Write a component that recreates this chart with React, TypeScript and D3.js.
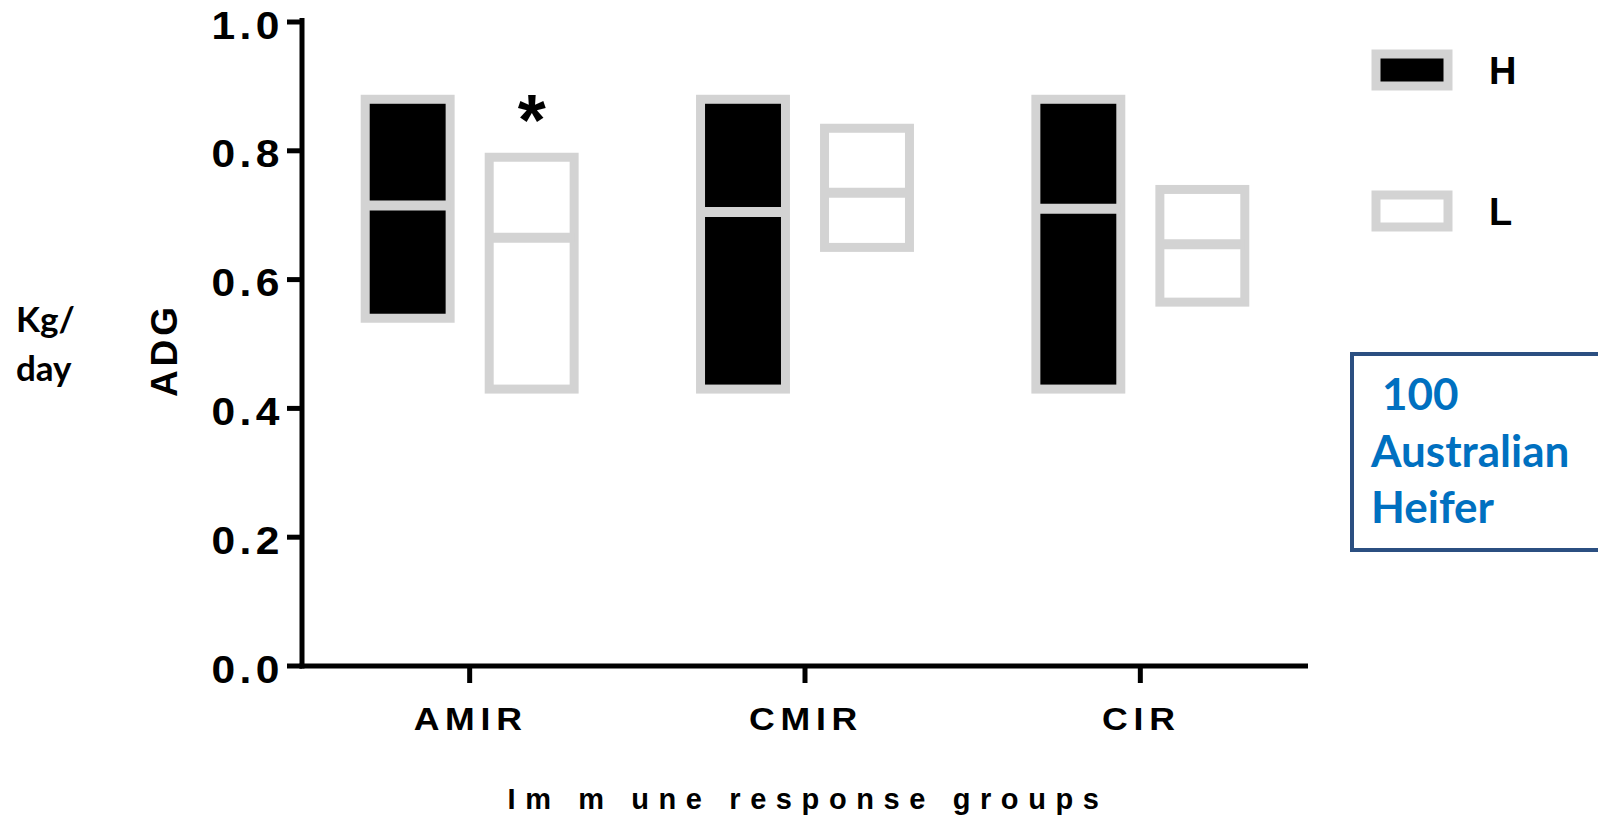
import React, { useEffect, useRef } from 'react';
import * as d3 from 'd3';

const groups = ['AMIR', 'CMIR', 'CIR'];
const series = ['H', 'L'];
// floating bars: min..max with a line at the mean
const hTop = [0.88, 0.88, 0.88];
const hBottom = [0.54, 0.43, 0.43];
const hMean = [0.715, 0.705, 0.71];
const lTop = [0.79, 0.835, 0.74];
const lBottom = [0.43, 0.65, 0.565];
const lMean = [0.665, 0.735, 0.655];
const yTicks = [0, 0.2, 0.4, 0.6, 0.8, 1.0];
const starred = [{ group: 'AMIR', series: 'L', label: '*' }];
const noteLines = ['100', 'Australian', 'Heifer'];

const W = 1598, H = 818;
const GREY = '#d3d3d3';
const ARIAL = '"Liberation Sans", Arial, sans-serif';
const CALIBRI = 'Lato, "Open Sans", sans-serif';

const App = () => {
  const ref = useRef<SVGSVGElement>(null);

  useEffect(() => {
    const svg = d3.select(ref.current);
    svg.selectAll('*').remove();

    const y = d3.scaleLinear().domain([0, 1]).range([666, 22]);
    const x = d3.scaleBand().domain(groups).range([302, 1308]);
    const sub = d3.scaleBand().domain(series).range([-124, 124]).paddingInner(0.315).paddingOuter(0.1575);

    const rows = groups.flatMap((g, i) => [
      { group: g, series: 'H', top: hTop[i], bottom: hBottom[i], mean: hMean[i] },
      { group: g, series: 'L', top: lTop[i], bottom: lBottom[i], mean: lMean[i] },
    ]);
    const bx = (d) => x(d.group)! + x.bandwidth() / 2 + sub(d.series)!;

    // bars
    const bar = svg.append('g').selectAll('g').data(rows).join('g');
    bar.append('rect')
      .attr('x', d => bx(d))
      .attr('y', d => y(d.top))
      .attr('width', sub.bandwidth())
      .attr('height', d => y(d.bottom) - y(d.top))
      .attr('fill', d => d.series === 'H' ? '#000' : '#fff')
      .attr('stroke', GREY)
      .attr('stroke-width', 9);
    bar.append('line')
      .attr('x1', d => bx(d))
      .attr('x2', d => bx(d) + sub.bandwidth())
      .attr('y1', d => y(d.mean))
      .attr('y2', d => y(d.mean))
      .attr('stroke', GREY)
      .attr('stroke-width', 10);

    // significance mark
    svg.append('g').selectAll('text').data(starred).join('text')
      .attr('x', d => x(d.group)! + x.bandwidth() / 2 + sub(d.series)! + sub.bandwidth() / 2)
      .attr('y', d => y(rows.find(r => r.group === d.group && r.series === d.series)!.top) - 12)
      .attr('text-anchor', 'middle')
      .attr('font-family', ARIAL)
      .attr('font-weight', 'bold')
      .attr('font-size', 72)
      .text(d => d.label);

    // y axis
    const yAxis = svg.append('g');
    yAxis.append('line')
      .attr('x1', x.range()[0]).attr('x2', x.range()[0])
      .attr('y1', y(1) - 4).attr('y2', y(0) + 2.5)
      .attr('stroke', '#000').attr('stroke-width', 5);
    yAxis.selectAll('line.tick').data(yTicks).join('line')
      .attr('class', 'tick')
      .attr('x1', x.range()[0] - 15).attr('x2', x.range()[0])
      .attr('y1', d => y(d)).attr('y2', d => y(d))
      .attr('stroke', '#000').attr('stroke-width', 5);
    yAxis.selectAll('text').data(yTicks).join('text')
      .attr('transform', d => `translate(284,${y(d) + 3}) scale(1.12,1)`)
      .attr('dy', '0.36em')
      .attr('text-anchor', 'end')
      .attr('font-family', ARIAL)
      .attr('font-weight', 'bold')
      .attr('font-size', 38)
      .attr('letter-spacing', 4)
      .text(d => d3.format('.1f')(d));

    // x axis
    const xAxis = svg.append('g');
    xAxis.append('line')
      .attr('x1', x.range()[0] - 2.5).attr('x2', x.range()[1])
      .attr('y1', y(0)).attr('y2', y(0))
      .attr('stroke', '#000').attr('stroke-width', 5);
    xAxis.selectAll('line.tick').data(groups).join('line')
      .attr('class', 'tick')
      .attr('x1', d => x(d)! + x.bandwidth() / 2).attr('x2', d => x(d)! + x.bandwidth() / 2)
      .attr('y1', y(0)).attr('y2', y(0) + 17)
      .attr('stroke', '#000').attr('stroke-width', 5);
    xAxis.selectAll('text').data(groups).join('text')
      .attr('transform', d => `translate(${x(d)! + x.bandwidth() / 2 + 1},730) scale(1.15,1)`)
      .attr('text-anchor', 'middle')
      .attr('font-family', ARIAL)
      .attr('font-weight', 'bold')
      .attr('font-size', 31)
      .attr('letter-spacing', 5)
      .text(d => d);

    // axis titles
    svg.append('text')
      .attr('x', 808).attr('y', 809)
      .attr('text-anchor', 'middle')
      .attr('font-family', ARIAL).attr('font-weight', 'bold')
      .attr('font-size', 29).attr('letter-spacing', 9.6)
      .text('Im m une response groups');
    svg.append('text')
      .attr('transform', 'translate(177,350) rotate(-90)')
      .attr('text-anchor', 'middle')
      .attr('font-family', ARIAL).attr('font-weight', 'bold')
      .attr('font-size', 37).attr('letter-spacing', 4)
      .text('ADG');
    svg.append('g').selectAll('text').data(['Kg/', 'day']).join('text')
      .attr('x', 16).attr('y', (d, i) => 332 + i * 49)
      .attr('font-family', CALIBRI).attr('font-weight', 'bold')
      .attr('font-size', 35)
      .text(d => d);

    // legend
    const legend = svg.append('g').selectAll('g').data(series).join('g')
      .attr('transform', (d, i) => `translate(1376,${70 + i * 141})`);
    legend.append('rect')
      .attr('x', 0).attr('y', -16).attr('width', 72).attr('height', 32)
      .attr('fill', d => d === 'H' ? '#000' : '#fff')
      .attr('stroke', GREY).attr('stroke-width', 9);
    legend.append('text')
      .attr('x', 113).attr('dy', '0.36em')
      .attr('font-family', ARIAL).attr('font-weight', 'bold')
      .attr('font-size', 38)
      .text(d => d);

    // note box
    svg.append('rect')
      .attr('x', 1352).attr('y', 354).attr('width', 260).attr('height', 196)
      .attr('fill', 'none').attr('stroke', '#2b4f81').attr('stroke-width', 4);
    svg.append('g').selectAll('text').data(noteLines).join('text')
      .attr('x', (d, i) => i === 0 ? 1382 : 1371)
      .attr('y', (d, i) => 410 + i * 56.5)
      .attr('font-family', CALIBRI).attr('font-weight', 'bold')
      .attr('font-size', 44).attr('fill', '#0070c0')
      .text(d => d);
  }, []);

  return (
    <svg ref={ref} width={W} height={H}
      style={{ position: 'absolute', left: 0, top: 0, background: '#fff' }} />
  );
};

export default App;
